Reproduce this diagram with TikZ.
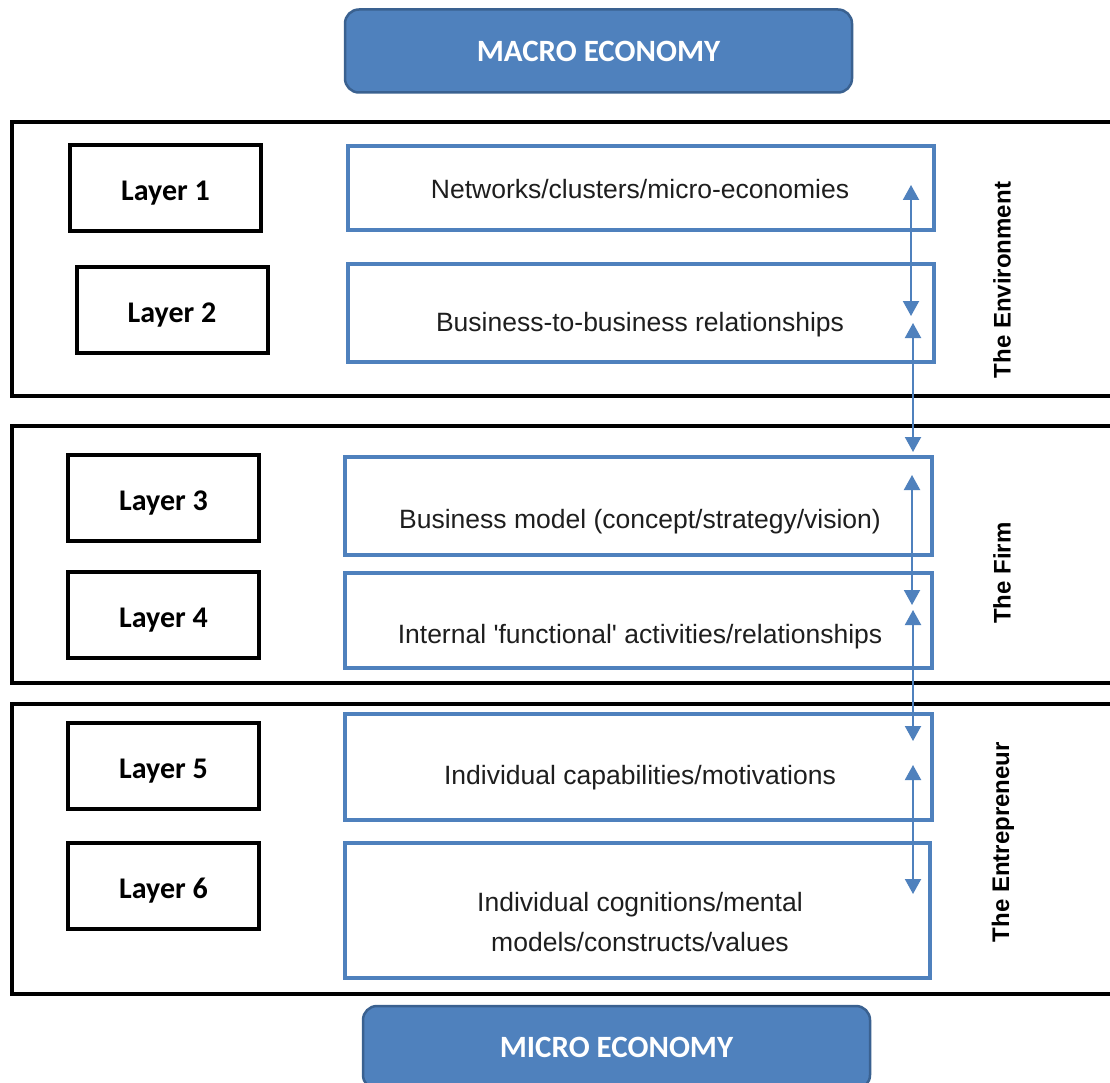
\documentclass[tikz,border=0pt]{standalone}
\usepackage{fontspec}
\setmainfont{Liberation Sans}[Ligatures=TeXOff]
\newfontfamily\layerfont{Carlito}
\usetikzlibrary{arrows.meta}
\definecolor{accent}{HTML}{4F81BD}
\definecolor{accentdark}{HTML}{3A6190}
\definecolor{ink}{HTML}{1E1E1E}

\begin{document}
\begin{tikzpicture}[x=1pt,y=-1pt,
  panel/.style={draw=black, line width=4pt, inner sep=0pt, minimum width=1148pt},
  layerbox/.style={draw=black, line width=4pt, inner sep=0pt,
    minimum width=191pt, minimum height=86pt, text height=25pt, text depth=0pt,
    font=\layerfont\bfseries\fontsize{30}{36}\selectfont, text=black},
  itembox/.style={draw=accent, line width=3.4pt, inner sep=0pt},
  itemtext/.style={inner sep=0pt, text=ink, font=\fontsize{26.5}{40}\selectfont, align=center},
  economy/.style={fill=accent, draw=accentdark, line width=2.5pt, rounded corners=14pt,
    minimum width=507pt, minimum height=83pt, inner sep=0pt, text=white,
    font=\layerfont\bfseries\fontsize{31}{36}\selectfont},
  sidelabel/.style={rotate=90, inner sep=0pt, text=black,
    font=\bfseries\fontsize{24}{28}\selectfont},
  link/.style={draw=accent, line width=2pt,
    {Triangle[width=16pt,length=15pt]}-{Triangle[width=16pt,length=15pt]}}
]
\useasboundingbox (0,0) rectangle (1110,1083);
\clip (0,0) rectangle (1110,1083);
\fill[white] (0,0) rectangle (1110,1083);

% economy levels
\node[economy] (macro) at (598.5,51) {MACRO ECONOMY};
\node[economy] (micro) at (616.5,1047.5) {MICRO ECONOMY};

% the three panels
\node[panel, minimum height=274pt] (environment) at (586,259) {};
\node[panel, minimum height=257pt] (firm) at (586,554.5) {};
\node[panel, minimum height=290pt] (entrepreneur) at (586,849) {};

% layer labels
\node[layerbox] (l1) at (165.5,188) {Layer 1};
\node[layerbox] (l2) at (172,310) {Layer 2};
\node[layerbox] (l3) at (163.5,498) {Layer 3};
\node[layerbox] (l4) at (163.5,615) {Layer 4};
\node[layerbox] (l5) at (163.5,765.5) {Layer 5};
\node[layerbox] (l6) at (163.5,886) {Layer 6};

% layer contents
\node[itembox, minimum width=586pt, minimum height=84pt] (b1) at (641,188) {};
\node[itembox, minimum width=586pt, minimum height=98pt] (b2) at (641,313) {};
\node[itembox, minimum width=587pt, minimum height=98pt] (b3) at (638.5,506) {};
\node[itembox, minimum width=587pt, minimum height=95pt] (b4) at (638.5,620.5) {};
\node[itembox, minimum width=587pt, minimum height=106pt] (b5) at (638.5,767) {};
\node[itembox, minimum width=585pt, minimum height=135pt] (b6) at (637.5,910.5) {};

\node[itemtext, anchor=base] (t1) at (640,199) {Networks/clusters/micro-economies};
\node[itemtext, anchor=base] (t2) at (640,331) {Business-to-business relationships};
\node[itemtext, anchor=base] (t3) at (640,528) {Business model (concept/strategy/vision)};
\node[itemtext, anchor=base] (t4) at (640,643) {Internal 'functional' activities/relationships};
\node[itemtext, anchor=base] (t5) at (640,784) {Individual capabilities/motivations};
\node[itemtext] (t6) at (640,922) {Individual cognitions/mental\\models/constructs/values};

% panel titles
\node[sidelabel] (s1) at (1002,280) {The Environment};
\node[sidelabel] (s2) at (1002,573) {The Firm};
\node[sidelabel] (s3) at (1003,842) {The Entrepreneur};

% two-way links between adjacent layers
\coordinate (a1t) at (911,185);  \coordinate (a1b) at (911,316);
\coordinate (a2t) at (913,323);  \coordinate (a2b) at (913,452);
\coordinate (a3t) at (912,475);  \coordinate (a3b) at (912,605);
\coordinate (a4t) at (913,610);  \coordinate (a4b) at (913,741);
\coordinate (a5t) at (913,765);  \coordinate (a5b) at (913,894);
\draw[link] (a1t) -- (a1b);
\draw[link] (a2t) -- (a2b);
\draw[link] (a3t) -- (a3b);
\draw[link] (a4t) -- (a4b);
\draw[link] (a5t) -- (a5b);
\end{tikzpicture}
\end{document}
